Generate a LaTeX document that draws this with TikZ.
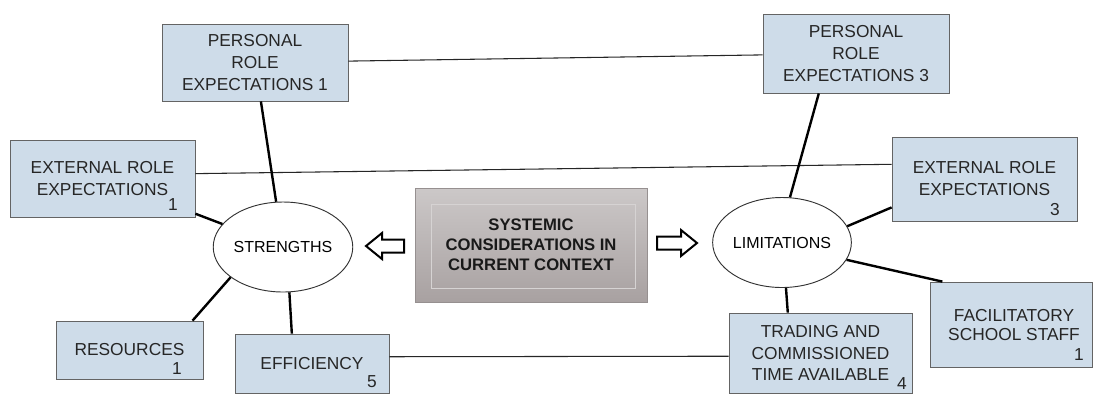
\documentclass[tikz,border=0pt]{standalone}
\usepackage{fontspec}
\setmainfont{Liberation Sans}
\usetikzlibrary{calc,shapes.geometric}
\definecolor{boxblue}{RGB}{206,220,233}
\definecolor{boxline}{RGB}{100,100,100}
\definecolor{grtop}{RGB}{204,200,200}
\definecolor{grbot}{RGB}{168,161,161}
\definecolor{grline}{RGB}{150,144,144}
\begin{document}
\begin{tikzpicture}[x=0.75pt,y=-0.75pt,
  bx/.style={draw=boxline, line width=0.6pt, fill=boxblue, inner sep=0pt, align=center,
    font=\fontsize{13}{16.5}\selectfont, text=black!85},
  num/.style={inner sep=0pt, font=\fontsize{13}{16.5}\selectfont, text=black!85},
  ell/.style={ellipse, draw=black!80, line width=0.7pt, fill=white, inner sep=0pt,
    minimum width=138*0.75pt, minimum height=90*0.75pt, font=\fontsize{12}{14}\selectfont},
  thicklink/.style={line width=1.8pt, black},
  thinlink/.style={line width=0.8pt, black!85},
  blockarrow/.style={draw=black, line width=1.5pt, fill=white, line join=miter}
]
\useasboundingbox (0,0) rectangle (1094,394);

% boxes
\node[bx, minimum width=186*0.75pt, minimum height=77*0.75pt] (pr1) at (255,62.5) {PERSONAL\\ROLE\\EXPECTATIONS 1};
\node[bx, minimum width=186*0.75pt, minimum height=79*0.75pt] (pr3) at (856,53.5) {PERSONAL\\ROLE\\EXPECTATIONS 3};
\node[bx, minimum width=185*0.75pt, minimum height=77*0.75pt] (er1) at (102.5,178.5) {EXTERNAL ROLE\\EXPECTATIONS};
\node[bx, minimum width=185*0.75pt, minimum height=84*0.75pt] (er3) at (984.5,179) {EXTERNAL ROLE\\EXPECTATIONS};
\node[bx, minimum width=147*0.75pt, minimum height=58*0.75pt] (res) at (129.5,350) {RESOURCES};
\node[bx, minimum width=154*0.75pt, minimum height=59*0.75pt] (eff) at (312,363.5) {EFFICIENCY};
\node[bx, minimum width=183*0.75pt, minimum height=80*0.75pt, font=\fontsize{13}{15.8}\selectfont] (trd) at (820.5,353) {TRADING AND\\COMMISSIONED\\TIME AVAILABLE};
\node[bx, minimum width=162*0.75pt, minimum height=85*0.75pt] (fac) at (1011,324.5) {};
\node[num, align=center, font=\fontsize{13}{14.5}\selectfont] (factxt) at (1014,325) {FACILITATORY\\SCHOOL STAFF};

% numbers
\node[num] (n1) at (173,205) {1};
\node[num] (n2) at (1055,210) {3};
\node[num] (n3) at (177,369) {1};
\node[num] (n4) at (372,382) {5};
\node[num] (n5) at (902,384) {4};
\node[num] (n6) at (1079,355) {1};

% central box
\node[draw=grline, line width=0.7pt, top color=grtop, bottom color=grbot,
  minimum width=232*0.75pt, minimum height=114*0.75pt, inner sep=0pt, align=center,
  font=\fontsize{12.5}{15}\selectfont\bfseries, text=black!90] (cen) at (531,245)
  {SYSTEMIC\\CONSIDERATIONS IN\\CURRENT CONTEXT};
\draw[grtop!80!white, line width=0.5pt] ($(cen.north west)+(17,17)$) rectangle ($(cen.south east)+(-12,-14)$);

% ellipses
\node[ell] (str) at (283,247) {STRENGTHS};
\node[ell] (lim) at (782,242.5) {LIMITATIONS};

% block arrows
\coordinate (la) at (366,246);
\draw[blockarrow] (la) -- ++(16,-13) -- ++(0,6.5) -- ++(22,0) -- ++(0,13) -- ++(-22,0) -- ++(0,6.5) -- cycle;
\coordinate (ra) at (697,243);
\draw[blockarrow] (ra) -- ++(-16,-13) -- ++(0,6.5) -- ++(-24,0) -- ++(0,13) -- ++(24,0) -- ++(0,6.5) -- cycle;

% connectors
\draw[thinlink] (pr1) -- (pr3);
\draw[thinlink] (er1.3) -- (er3.171);
\draw[thinlink] (eff.5) -- (trd.182);
\draw[thicklink] (pr1) -- (str);
\draw[thicklink] (er1) -- (str);
\draw[thicklink] (res.25) -- (str.210);
\draw[thicklink] (str.-82) -- (eff.124);
\draw[thicklink] (lim.80) -- (pr3.227);
\draw[thicklink] (lim.14) -- (er3.197);
\draw[thicklink] (lim.-15) -- (fac.148);
\draw[thicklink] (lim.-85) -- (trd.129);
\end{tikzpicture}
\end{document}
